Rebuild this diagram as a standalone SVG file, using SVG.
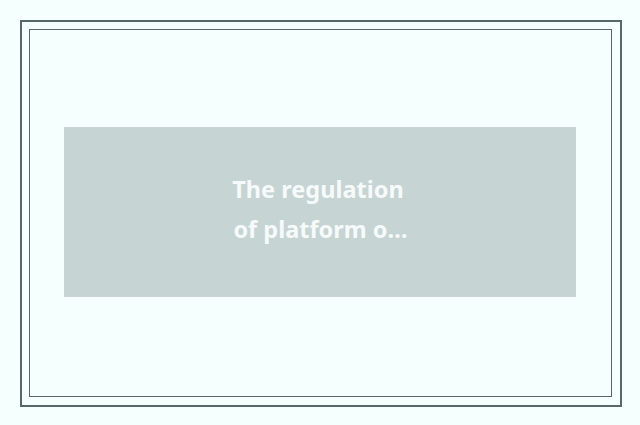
<svg xmlns="http://www.w3.org/2000/svg" width="640" height="425" viewBox="0 0 640 425">
<style>
.frame{fill:none;stroke:#586868}
.lbl{font-family:"Source Sans Pro","Noto Sans","Open Sans",sans-serif;font-weight:bold;font-size:23.5px;fill:#f6fafa;text-anchor:middle}
</style>
<rect width="640" height="425" fill="#f4fffe"/>
<rect class="frame" x="21" y="21" width="600" height="385" stroke-width="2"/>
<rect class="frame" x="29.5" y="29.5" width="582" height="367" stroke-width="1"/>
<g id="node1">
<rect x="64" y="127" width="512" height="170" fill="#c7d4d4"/>
<text class="lbl" x="318" y="198">The regulation</text>
<text class="lbl" x="320.5" y="238">of platform o…</text>
</g>
<g id="connectors"/>
</svg>
